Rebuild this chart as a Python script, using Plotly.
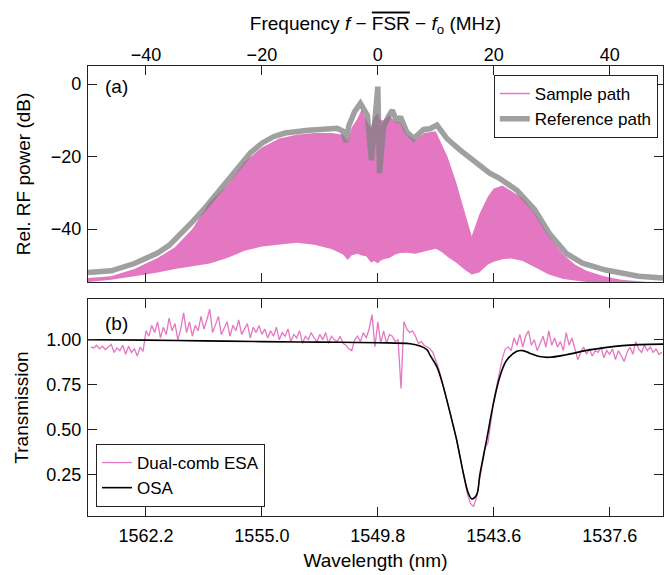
import numpy as np
import plotly.graph_objects as go

# ---------------- data: panel (a), RF spectrum ----------------
# reference path (gray), frequency offset in MHz vs rel. power in dB
ref_freq = [-50, -46, -42, -40, -38, -36, -34, -32, -30, -28, -26, -24, -22, -20, -18,
            -16, -14, -12, -10, -8, -7, -6, -5.5, -5, -4, -3, -2.5, -1.8, -1.1, -0.6,
            0, 0.3, 1, 1.8, 2.5, 3.3, 3.9, 5, 6.2, 7.9, 9, 10.2, 11.9, 14.2, 17, 19.3,
            21, 24, 27, 29.6, 32.5, 35.3, 39.3, 45, 49.2]
ref_db = [-52, -51.5, -49.5, -48.2, -46.6, -44.5, -41.5, -38, -34.5, -30.5, -26.5, -22.5,
          -19, -16.3, -14.5, -13.5, -13, -12.7, -12.5, -12.2, -12.2, -13, -15.9, -11.5,
          -7.6, -5.3, -6.5, -8.6, -21, -11.8, -0.7, -24.6, -11.8, -9, -7.2, -10.4, -9,
          -13.2, -15, -12.5, -12.3, -11.3, -15, -18.2, -21.9, -24.6, -26, -29.3, -34.5,
          -41.2, -46.7, -49.4, -51.3, -53, -53.5]

# sample path (pink) oscillates fast, so only its envelopes are kept
smp_freq = [-50, -46, -42, -38, -35, -32, -29, -26, -23, -20, -17, -14, -11, -8, -6, -5.2,
            -4.5, -3.5, -2.8, -2, -1.2, -0.6, 0, 0.4, 1, 2, 3, 3.9, 5, 6.5, 8, 10, 11, 12,
            13.5, 15, 16.2, 17.5, 19, 20, 21.5, 23, 25, 27, 29.5, 32, 34, 36, 39, 42, 46, 49.2]
smp_upper = [-53.5, -53, -51, -48, -45, -40, -32.5, -28, -21.5, -17.5, -15, -14, -13.5,
             -13.5, -14, -16, -12, -9.5, -7, -10, -12, -9, -8, -10, -10, -8.5, -10.5,
             -10.5, -14, -15.5, -13.5, -13, -16.5, -20, -27, -35.5, -42, -36, -31, -28.8,
             -28, -29.5, -31.5, -35.5, -42, -47, -49.8, -51.5, -53, -54, -54.5, -54.6]
smp_lower = [-54.6, -54, -53, -52, -51, -50.3, -49.5, -48, -46, -44.8, -44.2, -43.8, -44.3,
             -45.5, -47, -48.5, -47.2, -46.8, -47.3, -47.5, -49.2, -48.8, -49.5, -48.8,
             -48.3, -48, -47, -46.6, -46.5, -46.8, -46.2, -45.4, -46.3, -47.6, -49.2,
             -51.2, -52.5, -52, -49.8, -49, -48.3, -48.1, -48.8, -50.5, -52.5, -53.8,
             -54.3, -54.6, -54.6, -54.6, -54.6, -54.6]

# ---------------- data: panel (b), transmission ----------------
# dual-comb ESA, one value every 0.5 MHz starting at -49.5 MHz
esa_start, esa_step = -49.5, 0.5
esa_trans = [
    0.96, 0.955, 0.97, 0.95, 0.965, 0.945, 0.96, 0.975, 0.93, 0.955,
    0.94, 0.97, 0.92, 0.965, 0.93, 0.95, 0.91, 0.96, 0.935,
    1.05, 1.02, 1.08, 1.04, 1.10, 1.01, 1.07, 1.03, 1.12, 1.05,
    1.09, 1.00, 1.06, 1.15, 1.04, 1.10, 1.02, 1.08, 1.05, 1.13,
    1.06, 1.11, 1.17, 1.04, 1.09, 1.13, 1.03, 1.07, 1.10, 1.02,
    1.08, 1.05, 1.11, 1.03, 1.06, 1.09, 1.01, 1.07, 1.04, 1.08,
    1.03, 1.06, 1.01, 1.05, 1.02, 1.07, 1.00, 1.04, 1.02, 1.06,
    0.99, 1.03, 1.01, 1.05, 0.98, 1.02, 1.00, 1.04, 1.01, 0.99,
    1.03, 1.00, 1.04, 0.98, 1.02, 1.00, 0.99, 1.02, 0.98, 0.97,
    0.95, 0.94, 1.00, 1.02, 0.99, 1.04, 1.01, 1.06, 1.14, 0.96,
    1.10, 0.98, 1.05, 0.98, 1.03, 1.02, 0.99, 1.00, 0.73, 1.10,
    1.06, 1.04, 1.05, 1.02, 0.98, 0.99, 0.97, 0.96, 0.95, 0.93,
    0.89, 0.84, 0.78, 0.72, 0.66, 0.59, 0.52, 0.46, 0.38, 0.30,
    0.22, 0.14, 0.09, 0.075, 0.12, 0.22, 0.32, 0.40, 0.43, 0.56,
    0.66, 0.74, 0.82, 0.90, 0.95, 0.96, 0.94, 1.01, 0.97, 1.03,
    0.96, 1.02, 1.05, 0.97, 1.00, 0.94, 0.98, 1.02, 0.96, 1.05,
    0.97, 1.01, 0.96, 0.99, 0.94, 1.04, 0.97, 1.01, 0.95, 0.89,
    0.93, 0.96, 0.92, 0.95, 0.91, 0.94, 0.93, 0.96, 0.90, 0.94,
    0.92, 0.95, 0.89, 0.94, 0.91, 0.88, 0.93, 0.96, 0.92, 0.99,
    0.95, 0.93, 0.97, 0.94, 0.96, 0.93, 0.95, 0.92, 0.93,
]
esa_freq = esa_start + esa_step * np.arange(len(esa_trans))

# OSA (smooth)
osa_freq = [-50, -40, -30, -20, -10, 0, 5.6, 7.3, 8.5, 9.0, 10.2, 10.75, 11.3, 12.5, 13.6,
            14.75, 15.6, 16.2, 17.05, 17.6, 18.8, 19.9, 21.0, 22.2, 23.9, 25.0, 26.2,
            27.9, 29.6, 32.5, 36.5, 42.2, 49.2]
osa_trans = [1.0, 0.998, 0.994, 0.99, 0.987, 0.984, 0.978, 0.965, 0.944, 0.915, 0.85,
             0.80, 0.74, 0.59, 0.444, 0.26, 0.15, 0.117, 0.14, 0.25, 0.45, 0.64, 0.79,
             0.885, 0.935, 0.94, 0.926, 0.907, 0.903, 0.917, 0.944, 0.968, 0.976]

freq_ticks = [-40, -20, 0, 20, 40]
wl_labels = ['1562.2', '1555.0', '1549.8', '1543.6', '1537.6']

PINK = '#e377c2'
FONT = 'Liberation Sans, Arial, sans-serif'

fig = go.Figure()

# panel (a)
fig.add_trace(go.Scatter(x=smp_freq, y=smp_lower, mode='lines', line=dict(width=0),
                         showlegend=False, hoverinfo='skip', xaxis='x', yaxis='y'))
fig.add_trace(go.Scatter(x=smp_freq, y=smp_upper, mode='lines', line=dict(width=0),
                         fill='tonexty', fillcolor=PINK, showlegend=False,
                         xaxis='x', yaxis='y'))
fig.add_trace(go.Scatter(x=[None], y=[None], mode='lines', name='Sample path',
                         line=dict(color=PINK, width=1.5), xaxis='x', yaxis='y',
                         legend='legend'))
fig.add_trace(go.Scatter(x=ref_freq, y=ref_db, mode='lines', name='Reference path',
                         line=dict(color='rgba(128,128,128,0.75)', width=5.5),
                         xaxis='x', yaxis='y', legend='legend'))

# panel (b)
fig.add_trace(go.Scatter(x=esa_freq, y=esa_trans, mode='lines', name='Dual-comb ESA',
                         line=dict(color=PINK, width=1.3), xaxis='x2', yaxis='y2',
                         legend='legend2'))
fig.add_trace(go.Scatter(x=osa_freq, y=osa_trans, mode='lines', name='OSA',
                         line=dict(color='black', width=1.6, shape='spline'),
                         xaxis='x2', yaxis='y2', legend='legend2'))

axis_common = dict(showline=True, linecolor='#222', linewidth=1.2, mirror='ticks',
                   ticks='inside', ticklen=9, tickwidth=1.2, tickcolor='#222',
                   showgrid=False, zeroline=False,
                   tickfont=dict(size=18, color='black', family=FONT))

x_range = [-50, 49.2]

fig.update_layout(
    width=665, height=575,
    margin=dict(l=88, r=2, t=66, b=59),
    paper_bgcolor='white', plot_bgcolor='white',
    font=dict(family=FONT, size=18, color='black'),
    xaxis=dict(axis_common, domain=[0, 1], range=x_range, side='top', anchor='y',
               tickvals=freq_ticks, ticklabelstandoff=-3,
               title=dict(text='Frequency <i>f</i> \u2212 <span style="text-decoration:overline">FSR</span>'
                               ' \u2212 <i>f</i><sub>o</sub> (MHz)',
                          font=dict(size=19), standoff=9)),
    yaxis=dict(axis_common, domain=[0.52, 1], range=[-54.6, 5], anchor='x',
               tickvals=[-40, -20, 0], ticklabelstandoff=2,
               title=dict(text='Rel. RF power (dB)', font=dict(size=19))),
    xaxis2=dict(axis_common, domain=[0, 1], range=x_range, anchor='y2',
                tickvals=freq_ticks, ticktext=wl_labels, ticklabelstandoff=3,
                title=dict(text='Wavelength (nm)', font=dict(size=19), standoff=8)),
    yaxis2=dict(axis_common, domain=[0, 0.482], range=[0.022, 1.226], anchor='x2',
                tickvals=[0.25, 0.5, 0.75, 1.0], tickformat='.2f', ticklabelstandoff=2,
                title=dict(text='Transmission', font=dict(size=19), standoff=12)),
    legend=dict(x=0.991, y=0.98, xanchor='right', yanchor='top', traceorder='normal',
                bordercolor='#222', borderwidth=1, bgcolor='white',
                font=dict(size=17), tracegroupgap=0),
    legend2=dict(x=0.014, y=0.02, xanchor='left', yanchor='bottom', traceorder='normal',
                 bordercolor='#222', borderwidth=1, bgcolor='white',
                 font=dict(size=17), tracegroupgap=0),
    annotations=[
        dict(text='(a)', x=0.026, y=0.903, xref='x domain', yref='y domain',
             xanchor='left', yanchor='middle', showarrow=False, font=dict(size=19)),
        dict(text='(b)', x=0.026, y=0.889, xref='x2 domain', yref='y2 domain',
             xanchor='left', yanchor='middle', showarrow=False, font=dict(size=19)),
    ],
)

# page body has a default margin; drop it so the figure sits at the window corner
fig.write_html('out.html', config={'displayModeBar': False},
               post_script="document.body.style.margin='0';")
